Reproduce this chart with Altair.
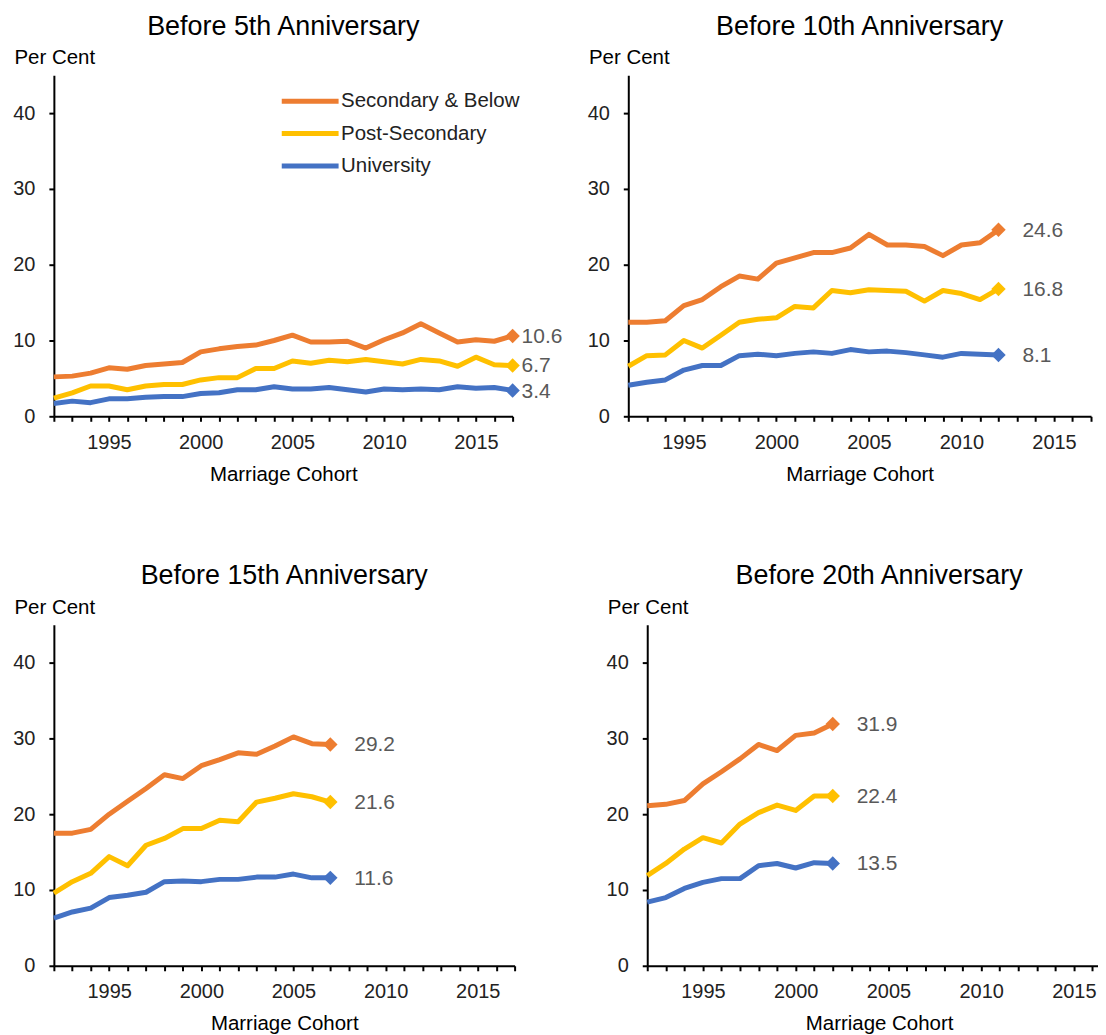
import altair as alt
import pandas as pd

FONT = "Liberation Sans"
START_YEAR = 1992

series_names = ["Secondary & Below", "Post-Secondary", "University"]
series_colors = ["#ED7D31", "#FFC000", "#4472C4"]

panel_titles = [
    "Before 5th Anniversary",
    "Before 10th Anniversary",
    "Before 15th Anniversary",
    "Before 20th Anniversary",
]

# Before 5th anniversary, cohorts 1992-2017
sec_5 = [5.2, 5.3, 5.7, 6.4, 6.2, 6.7, 6.9, 7.1, 8.5, 8.9, 9.2, 9.4, 10.0, 10.7, 9.8, 9.8,
         9.9, 9.0, 10.1, 11.0, 12.2, 11.0, 9.8, 10.1, 9.9, 10.6]
post_5 = [2.4, 3.1, 4.0, 4.0, 3.5, 4.0, 4.2, 4.2, 4.8, 5.1, 5.1, 6.3, 6.3, 7.3, 7.0, 7.4,
          7.2, 7.5, 7.2, 6.9, 7.5, 7.3, 6.6, 7.8, 6.8, 6.7]
uni_5 = [1.7, 2.0, 1.8, 2.3, 2.3, 2.5, 2.6, 2.6, 3.0, 3.1, 3.5, 3.5, 3.9, 3.6, 3.6, 3.8,
         3.5, 3.2, 3.6, 3.5, 3.6, 3.5, 3.9, 3.7, 3.8, 3.4]

# Before 10th anniversary, cohorts 1992-2012
sec_10 = [12.4, 12.4, 12.6, 14.6, 15.4, 17.1, 18.5, 18.1, 20.2, 20.9, 21.6, 21.6, 22.2,
          24.0, 22.6, 22.6, 22.4, 21.2, 22.6, 22.9, 24.6]
post_10 = [6.6, 8.0, 8.1, 10.0, 9.0, 10.7, 12.4, 12.8, 13.0, 14.5, 14.3, 16.6, 16.3,
           16.7, 16.6, 16.5, 15.2, 16.6, 16.2, 15.4, 16.8]
uni_10 = [4.1, 4.5, 4.8, 6.1, 6.7, 6.7, 8.0, 8.2, 8.0, 8.3, 8.5, 8.3, 8.8, 8.5, 8.6, 8.4,
          8.1, 7.8, 8.3, 8.2, 8.1]

# Before 15th anniversary, cohorts 1992-2007
sec_15 = [17.5, 17.5, 18.0, 20.0, 21.7, 23.4, 25.2, 24.7, 26.4, 27.2, 28.1, 27.9, 29.0,
          30.2, 29.3, 29.2]
post_15 = [9.6, 11.1, 12.2, 14.4, 13.2, 15.9, 16.8, 18.1, 18.1, 19.2, 19.0, 21.6, 22.1,
           22.7, 22.3, 21.6]
uni_15 = [6.3, 7.1, 7.6, 9.0, 9.3, 9.7, 11.1, 11.2, 11.1, 11.4, 11.4, 11.7, 11.7, 12.1,
          11.6, 11.6]

# Before 20th anniversary, cohorts 1992-2002
sec_20 = [21.1, 21.3, 21.8, 24.0, 25.6, 27.3, 29.2, 28.4, 30.4, 30.7, 31.9]
post_20 = [11.9, 13.5, 15.4, 16.9, 16.2, 18.7, 20.2, 21.2, 20.5, 22.4, 22.4]
uni_20 = [8.4, 9.0, 10.2, 11.0, 11.5, 11.5, 13.2, 13.5, 12.9, 13.6, 13.5]

x_ticks = list(range(1992, 2018))
y_ticks = [0, 10, 20, 30, 40]


def make_df(sec, post, uni):
    rows = []
    for name, vals in zip(series_names, [sec, post, uni]):
        n = len(vals)
        for i, v in enumerate(vals):
            rows.append({"year": START_YEAR + i, "series": name, "value": v,
                         "last": i == n - 1})
    return pd.DataFrame(rows)


def panel(df, title, width, label_dx, show_legend):
    base = alt.Chart(df)
    x = alt.X(
        "year:Q",
        scale=alt.Scale(domain=[1992, 2017], nice=False, zero=False),
        axis=alt.Axis(
            values=x_ticks,
            format="d",
            labelExpr="datum.value % 5 == 0 ? datum.label : ''",
            labelOverlap=False,
            labelFlush=False,
            labelPadding=11,
            title="Marriage Cohort",
            titlePadding=12,
        ),
    )
    y = alt.Y(
        "value:Q",
        scale=alt.Scale(domain=[0, 45], nice=False, zero=True),
        axis=alt.Axis(
            values=y_ticks,
            labelPadding=14,
            title="Per Cent",
            titleAngle=0,
            titleAlign="left",
            titleBaseline="alphabetic",
            titleX=-40,
            titleY=-11.5,
        ),
    )
    if show_legend:
        legend = alt.Legend(
            orient="none",
            legendX=240,
            legendY=9,
            title=None,
            symbolType="M-2,0H2",
            symbolSize=812,
            symbolStrokeWidth=5,
            labelFont=FONT,
            labelFontSize=20.5,
            labelColor="#222222",
            labelLimit=400,
            labelOffset=14,
            rowPadding=4.5,
            padding=0,
        )
    else:
        legend = None
    color = alt.Color("series:N", sort=series_names,
                      scale=alt.Scale(domain=series_names, range=series_colors),
                      legend=legend)
    fill = alt.Fill("series:N", sort=series_names,
                    scale=alt.Scale(domain=series_names, range=series_colors),
                    legend=None)

    line = base.mark_line(strokeWidth=5, strokeJoin="round").encode(x=x, y=y, color=color)
    pts = base.transform_filter("datum.last").mark_point(
        shape="diamond", filled=True, size=210, opacity=1
    ).encode(x=x, y=y, fill=fill)
    lbl = base.transform_filter("datum.last").mark_text(
        align="left", baseline="middle", dx=label_dx, dy=1,
        font=FONT, fontSize=21, color="#595959"
    ).encode(x=x, y=y, text=alt.Text("value:Q", format=".1f"))

    return alt.layer(line, pts, lbl).properties(
        width=width,
        height=342,
        title=alt.TitleParams(
            title, font=FONT, fontSize=27, fontWeight="normal", color="#000000",
            anchor="middle", offset=7,
        ),
    ).resolve_scale(color="independent", fill="independent")


p1 = panel(make_df(sec_5, post_5, uni_5), panel_titles[0], 460, 9, True)
p2 = panel(make_df(sec_10, post_10, uni_10), panel_titles[1], 464, 24, False)
p3 = panel(make_df(sec_15, post_15, uni_15), panel_titles[2], 462, 24, False)
p4 = panel(make_df(sec_20, post_20, uni_20), panel_titles[3], 465, 24, False)

row1 = alt.hconcat(p1, p2, spacing=116, bounds="flush").resolve_scale(
    color="independent", fill="independent").resolve_legend(color="independent")
row2 = alt.hconcat(p3, p4, spacing=133, bounds="flush").resolve_scale(
    color="independent", fill="independent").resolve_legend(color="independent")

chart = alt.vconcat(row1, row2, spacing=77).resolve_scale(
    color="independent", fill="independent"
).resolve_legend(color="independent").properties(
    padding={"left": 4, "top": 3, "right": -14, "bottom": 0}
).configure_view(
    stroke=None
).configure_axis(
    grid=False,
    domainColor="#000000",
    domainWidth=2,
    tickColor="#000000",
    tickWidth=2,
    tickSize=5,
    labelFont=FONT,
    labelFontSize=20,
    labelColor="#222222",
    titleFont=FONT,
    titleFontSize=20.5,
    titleFontWeight="normal",
    titleColor="#000000",
)

chart.save("out.html", embed_options={"renderer": "svg", "actions": False})
